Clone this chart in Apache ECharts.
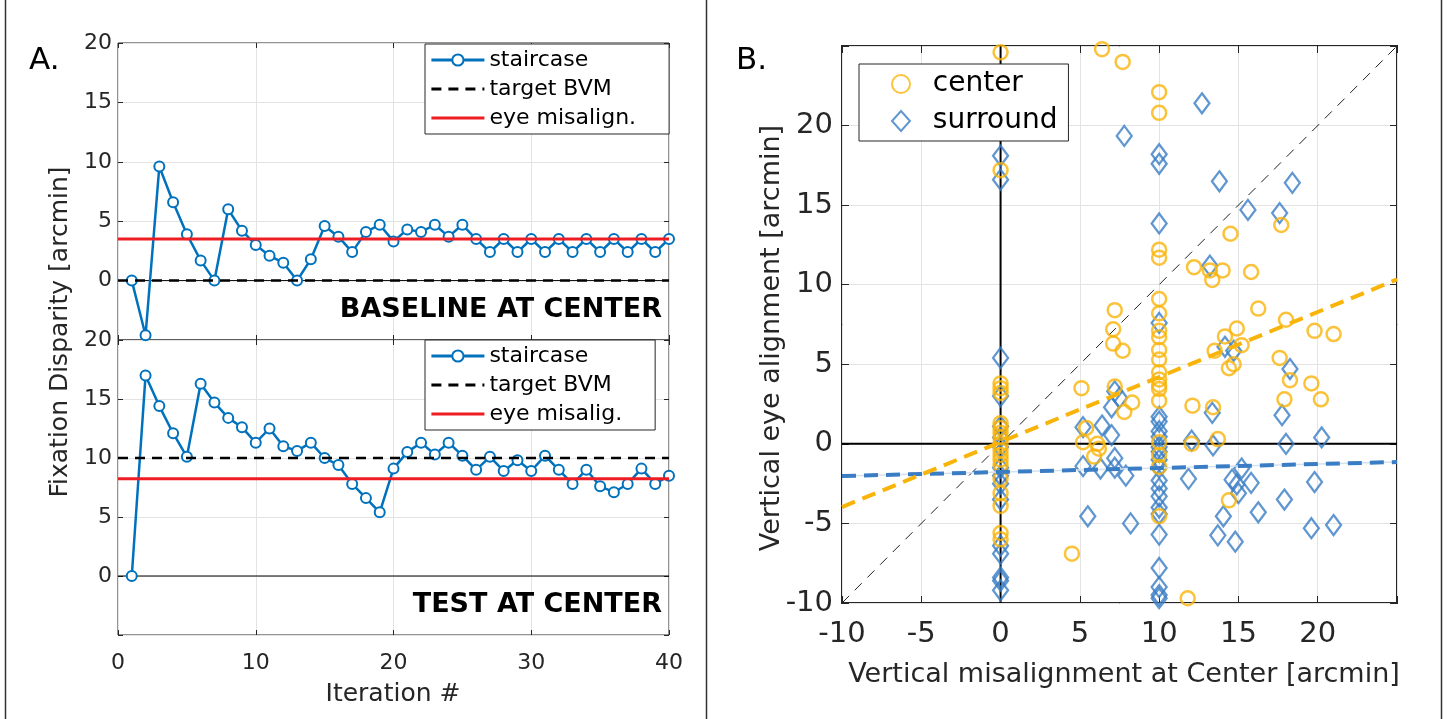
<!DOCTYPE html>
<html><head><meta charset="utf-8">
<script src="https://cdn.jsdelivr.net/npm/echarts@6/dist/echarts.min.js"></script>
<style>html,body{margin:0;padding:0;background:#fff}#c{width:1447px;height:719px}</style>
</head><body><div id="c"></div>
<script>
// ---------- DATA ----------
const iterations = [1,2,3,4,5,6,7,8,9,10,11,12,13,14,15,16,17,18,19,20,21,22,23,24,25,26,27,28,29,30,31,32,33,34,35,36,37,38,39,40];
const baselineStaircase = [0,-4.6,9.6,6.6,3.9,1.7,0,6.0,4.2,3.0,2.1,1.5,0,1.8,4.6,3.7,2.4,4.1,4.7,3.3,4.3,4.1,4.7,3.7,4.7,3.5,2.4,3.5,2.4,3.5,2.4,3.5,2.4,3.5,2.4,3.5,2.4,3.5,2.4,3.5];
const testStaircase = [0,17.0,14.4,12.1,10.1,16.3,14.7,13.4,12.6,11.3,12.5,11.0,10.6,11.3,10.0,9.4,7.8,6.6,5.4,9.1,10.5,11.3,10.3,11.3,10.2,9.0,10.1,8.9,9.8,8.9,10.2,9.0,7.8,9.0,7.6,7.1,7.8,9.1,7.8,8.5];
const iterRange = [0, 40];
const baselineTarget = 0, baselineMisalign = 3.5;
const testTarget = 10, testMisalign = 8.25;
const leftYTicks = [-5, 20, 5];   // min, max, step
const leftXTicks = [0, 40, 10];

const centerPoints = [
 [0,24.6],[0,17.2],[0,3.8],[0,3.5],[0,3.2],[0,1.3],[0,1.0],[0,0.7],[0,0.4],[0,0.0],[0,-0.4],[0,-0.7],[0,-1.0],[0,-1.3],[0,-2.2],[0,-3.1],[0,-3.9],[0,-5.6],[0,-6.0],
 [6.4,24.8],[7.7,24.0],[7.2,8.4],[7.1,7.2],[7.1,6.3],[7.7,5.85],[5.1,3.5],[7.2,3.6],[7.8,2.0],[8.3,2.6],[5.4,1.0],[5.2,0.1],[6.1,0.0],[6.2,-0.3],[5.9,-0.8],[4.5,-6.9],
 [10,22.1],[10,20.8],[10,12.2],[10,11.7],[10,9.1],[10,8.2],[10,7.1],[10,6.7],[10,5.9],[10,5.3],[10,4.5],[10,4.05],[10,3.7],[10,3.45],[10,2.7],[10,0.1],[10,-0.7],[10,-1.45],[10,-4.55],
 [12.2,11.1],[13.2,10.9],[14.0,10.9],[13.35,10.3],[15.8,10.8],[14.5,13.2],[17.7,13.75],[16.25,8.5],[18.0,7.8],[19.8,7.1],[21.0,6.9],[14.9,7.25],[14.15,6.75],[15.2,6.2],[13.5,5.85],[14.7,5.0],[14.4,4.75],[17.6,5.4],[18.25,4.0],[19.6,3.8],[20.2,2.8],[17.9,2.8],[12.1,2.4],[13.4,2.3],[12.05,0.0],[13.7,0.3],[14.4,-3.55],[11.8,-9.7]
];
const surroundPoints = [
 [0,18.1],[0,16.6],[0,5.4],[0,3.0],[0,1.1],[0,0.4],[0,-0.2],[0,-1.5],[0,-2.0],[0,-2.5],[0,-3.5],[0,-6.4],[0,-6.9],[0,-8.4],[0,-8.6],[0,-9.2],
 [7.8,19.35],[7.2,3.3],[7.5,2.9],[7.0,2.3],[5.2,1.05],[6.4,1.15],[7.0,0.55],[5.2,-1.4],[6.3,-1.55],[7.2,-0.9],[7.2,-1.5],[7.9,-2.0],[5.5,-4.55],[8.2,-5.0],
 [10,18.2],[10,17.6],[10,13.85],[10,7.6],[10,1.7],[10,1.4],[10,0.8],[10,0.45],[10,-0.2],[10,-0.5],[10,-1.0],[10,-1.5],[10,-2.3],[10,-2.8],[10,-3.3],[10,-4.0],[10,-4.4],[10,-5.7],[10,-7.8],[10,-9.0],[10,-9.5],[10,-9.7],
 [12.7,21.4],[13.8,16.5],[18.4,16.4],[15.6,14.7],[17.6,14.5],[13.2,11.2],[14.15,6.1],[14.7,5.85],[18.25,4.7],[17.75,1.8],[13.35,1.95],[12.05,0.2],[13.4,-0.1],[18.0,0.0],[20.25,0.4],[11.85,-2.2],[14.6,-2.25],[14.9,-2.55],[15.2,-1.55],[15.8,-2.45],[15.0,-3.1],[14.05,-4.55],[16.25,-4.3],[17.9,-3.5],[19.8,-2.4],[13.7,-5.75],[14.8,-6.15],[19.6,-5.3],[21.0,-5.1]
];
const centerFit = [[-10,-3.97],[25,10.33]];
const surroundFit = [[-10,-2.02],[25,-1.14]];
const rightRange = [-10, 25];
const rightTicks = [-10, 25, 5];
const diagonal = [[-10,-10],[25,25]];

// ---------- CHART ----------
const FONT = 'DejaVu Sans';
const TXT = '#262626';
const BLUE = '#0072BD', RED = '#EE1D23', ORANGE = '#F9B40A', DBLUE = '#3A7DC4';
const NONE = 'rgba(0,0,0,0)';
const chart = echarts.init(document.getElementById('c'), null, {renderer:'canvas'});

const grid = [
  {left:118, top:43, width:551, height:297, show:true, borderColor:TXT, borderWidth:1, backgroundColor:'#fff'},
  {left:118, top:340, width:551, height:295, show:true, borderColor:TXT, borderWidth:1, backgroundColor:'#fff'},
  {left:842, top:46, width:555, height:557, show:true, borderColor:TXT, borderWidth:2, backgroundColor:'#fff'}
];
const split = {show:true, lineStyle:{color:'#e3e3e3', width:1}};
function axis(gi, pos, rng, labels, fs, margin, tickLen, hideVals){
  return {
    type:'value', gridIndex:gi, position:pos, min:rng[0], max:rng[1], interval:rng[2],
    axisLine:{show:false, onZero:false}, splitLine: labels!==null ? split : {show:false},
    axisTick:{show:true, inside:true, length:tickLen, lineStyle:{color:TXT, width:1}},
    axisLabel:{show: !!labels, fontSize:fs, color:TXT, fontFamily:FONT, margin:margin,
      formatter:(v)=> hideVals.indexOf(v)>=0 ? '' : String(v)}
  };
}
const xAxis = [
  axis(0,'bottom',leftXTicks,false,22,14,5,[]),
  axis(0,'top',leftXTicks,null,22,14,5,[]),
  axis(1,'bottom',leftXTicks,true,22,17,5,[]),
  axis(1,'top',leftXTicks,null,22,14,5,[]),
  axis(2,'bottom',rightTicks,true,29,17,7,[25]),
  axis(2,'top',rightTicks,null,29,14,7,[])
];
const yAxis = [
  axis(0,'left',leftYTicks,true,22,6,5,[-5]),
  axis(0,'right',leftYTicks,null,22,6,5,[]),
  axis(1,'left',leftYTicks,true,22,6,5,[-5]),
  axis(1,'right',leftYTicks,null,22,6,5,[]),
  axis(2,'left',rightTicks,true,29,9,7,[25]),
  axis(2,'right',rightTicks,null,29,9,7,[])
];

function hline(name, xi, yi, y, color, width, type, z){
  return {type:'line', name:name, xAxisIndex:xi, yAxisIndex:yi, data:[[iterRange[0],y],[iterRange[1],y]],
    symbol:'none', itemStyle:{color:NONE, borderWidth:0}, lineStyle:{color:color, width:width, type:type}, z:z, silent:true};
}
function stair(xi, yi, vals){
  return {type:'line', name:'staircase', xAxisIndex:xi, yAxisIndex:yi,
    data: iterations.map((x,i)=>[x, vals[i]]), symbol:'circle', symbolSize:10, showAllSymbol:true, clip:false,
    itemStyle:{color:'#fff', borderColor:BLUE, borderWidth:2}, lineStyle:{color:BLUE, width:2.5}, z:4};
}
const series = [
  // top panel
  hline('zero0',0,0,0,'#000',1,'solid',2),
  stair(0,0,baselineStaircase),
  hline('target BVM',0,0,baselineTarget,'#000',2.5,[10,7],5),
  hline('eye misalign.',0,0,baselineMisalign,RED,3,'solid',6),
  // bottom panel
  hline('zero1',2,2,0,'#000',1.2,'solid',2),
  stair(2,2,testStaircase),
  hline('target BVM',2,2,testTarget,'#000',2.5,[10,7],5),
  hline('eye misalig.',2,2,testMisalign,RED,3,'solid',6),
  // right panel
  {type:'line', name:'xzero', xAxisIndex:4, yAxisIndex:4, data:[[0,rightRange[0]],[0,rightRange[1]]], symbol:'none', lineStyle:{color:'#000', width:2}, z:2, silent:true},
  {type:'line', name:'yzero', xAxisIndex:4, yAxisIndex:4, data:[[rightRange[0],0],[rightRange[1],0]], symbol:'none', lineStyle:{color:'#000', width:2}, z:2, silent:true},
  {type:'line', name:'diag', xAxisIndex:4, yAxisIndex:4, data:diagonal, symbol:'none', lineStyle:{color:'#222', width:1, type:[10,8]}, z:2, silent:true},
  {type:'scatter', name:'surround', xAxisIndex:4, yAxisIndex:4, data:surroundPoints, symbol:'diamond', symbolSize:[15,20],
    itemStyle:{color:NONE, borderColor:DBLUE, borderWidth:2.3}, z:3},
  {type:'scatter', name:'center', xAxisIndex:4, yAxisIndex:4, data:centerPoints, symbol:'circle', symbolSize:14,
    itemStyle:{color:NONE, borderColor:ORANGE, borderWidth:2.5}, z:4},
  {type:'line', name:'sfitglow', xAxisIndex:4, yAxisIndex:4, data:surroundFit, symbol:'none', lineStyle:{color:'#d3e2f1', width:1.5}, z:5, silent:true},
  {type:'line', name:'sfit', xAxisIndex:4, yAxisIndex:4, data:surroundFit, symbol:'none', lineStyle:{color:DBLUE, width:4, type:[14,8]}, z:6, silent:true},
  {type:'line', name:'cfit', xAxisIndex:4, yAxisIndex:4, data:centerFit, symbol:'none', lineStyle:{color:ORANGE, width:4, type:[14,8]}, z:6, silent:true}
];

const legBase = {orient:'vertical', selectedMode:false, backgroundColor:'#fff', borderColor:TXT, borderWidth:1, borderRadius:0,
  textStyle:{fontSize:22, color:'#000', fontFamily:FONT}, itemWidth:53, itemHeight:14, itemGap:7, z:20,
  lineStyle:{width:2.8}};
const legend = [
  Object.assign({}, legBase, {data:['staircase','target BVM','eye misalign.'], left:425, top:44, padding:[5,33,5,5]}),
  Object.assign({}, legBase, {data:['staircase','target BVM','eye misalig.'], left:425, top:340, padding:[5,33,5,5]}),
  Object.assign({}, legBase, {data:['center','surround'], left:859, top:64, padding:[6,11,6,32], itemWidth:18, itemHeight:20, itemGap:9,
    lineStyle:{}, symbolKeepAspect:true, formatter:(n)=>'  '+n, textStyle:{fontSize:28, color:'#000', fontFamily:FONT}})
];

const graphic = [
  {type:'line', shape:{x1:5.5,y1:0,x2:5.5,y2:719}, style:{stroke:'#333', lineWidth:1.5}},
  {type:'line', shape:{x1:706.5,y1:0,x2:706.5,y2:719}, style:{stroke:'#333', lineWidth:1.5}},
  {type:'line', shape:{x1:1441.5,y1:0,x2:1441.5,y2:719}, style:{stroke:'#333', lineWidth:1.5}},
  {type:'text', left:29, top:45, style:{text:'A.', fontSize:31, fontFamily:FONT, fill:'#000'}},
  {type:'text', left:736, top:45, style:{text:'B.', fontSize:31, fontFamily:FONT, fill:'#000'}},
  {type:'text', x:662, y:310, style:{text:'BASELINE AT CENTER', fontSize:27, fontWeight:'bold', fontFamily:FONT, fill:'#000', align:'right', verticalAlign:'middle'}, z:10},
  {type:'text', x:662, y:605, style:{text:'TEST AT CENTER', fontSize:27, fontWeight:'bold', fontFamily:FONT, fill:'#000', align:'right', verticalAlign:'middle'}, z:10},
  {type:'text', x:60, y:332, rotation:Math.PI/2, style:{text:'Fixation Disparity [arcmin]', fontSize:25, fontFamily:FONT, fill:TXT, align:'center', verticalAlign:'middle'}},
  {type:'text', x:393, y:694, style:{text:'Iteration #', fontSize:25, fontFamily:FONT, fill:TXT, align:'center', verticalAlign:'middle'}},
  {type:'text', x:772, y:338, rotation:Math.PI/2, style:{text:'Vertical eye alignment [arcmin]', fontSize:27, fontFamily:FONT, fill:TXT, align:'center', verticalAlign:'middle'}},
  {type:'text', x:1124, y:675, style:{text:'Vertical misalignment at Center [arcmin]', fontSize:27, fontFamily:FONT, fill:TXT, align:'center', verticalAlign:'middle'}}
];

chart.setOption({animation:false, backgroundColor:'#fff', textStyle:{fontFamily:FONT},
  grid:grid, xAxis:xAxis, yAxis:yAxis, series:series, legend:legend, graphic:graphic});
</script></body></html>
